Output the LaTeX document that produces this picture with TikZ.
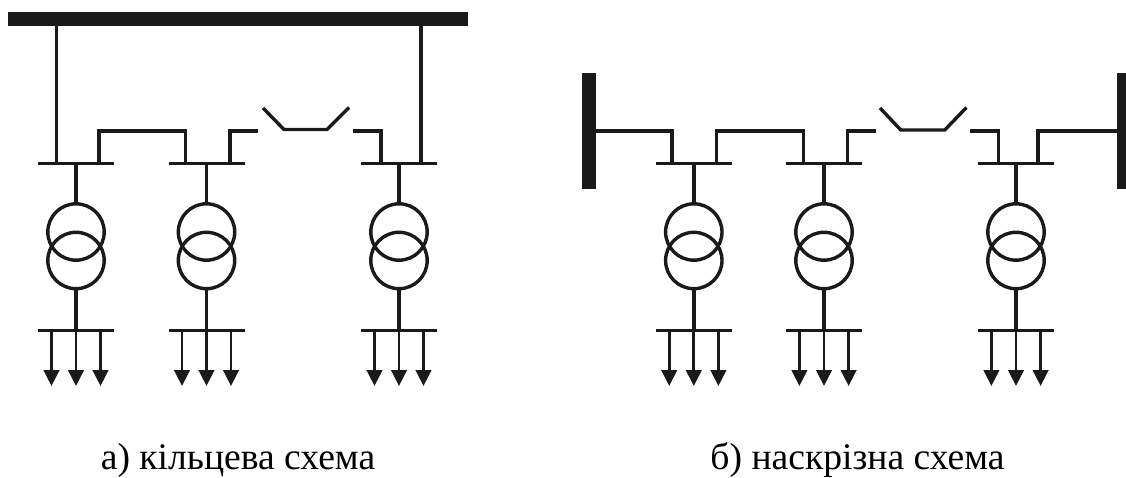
\documentclass[tikz,border=0pt]{standalone}
\usepackage{fontspec}
\setmainfont{Liberation Serif}
\usetikzlibrary{arrows.meta}
\definecolor{ink}{HTML}{1A1A1A}
\tikzset{
  wire/.style={draw=ink,line width=3.4pt,line join=miter},
  feed/.style={draw=ink,line width=2.8pt,-{Triangle[length=16pt,width=15.5pt,color=ink]}},
  winding/.style={circle,draw=ink,line width=3.4pt,minimum size=56.4pt,inner sep=0pt,outer sep=0pt},
  heavybar/.style={fill=ink,draw=none},
  caption/.style={font=\fontsize{37.6pt}{40pt}\selectfont,text=black,inner sep=0pt,anchor=base}
}
% #1 name prefix, #2 centre x, #3 arrow spacing, #4 half-width of the buses
\newcommand{\unitfeeder}[4]{%
  \coordinate (#1top) at (#2,163.3);
  \node[winding] (#1up) at (#2,232) {};
  \node[winding] (#1lo) at (#2,260.5) {};
  \coordinate (#1bus) at (#2,330.7);
  \coordinate (#1busL) at ([xshift=-#4pt]#1bus);
  \coordinate (#1busR) at ([xshift=#4pt]#1bus);
  \coordinate (#1topL) at ([xshift=-#4pt]#1top);
  \coordinate (#1topR) at ([xshift=#4pt]#1top);
  \draw[wire] (#1topL) -- (#1topR);
  \draw[wire] (#1busL) -- (#1busR);
  \draw[wire] (#1top) -- (#1up.north);
  \draw[wire] (#1lo.south) -- (#1bus);
  \foreach \dx in {-#3,0,#3}{
    \coordinate (#1s) at ([xshift=\dx pt]#1bus);
    \coordinate (#1e) at ([xshift=\dx pt,yshift=-55.3pt]#1bus);
    \draw[feed] (#1s) -- (#1e);
  }
}
\begin{document}
\begin{tikzpicture}[x=1pt,y=-1pt]
\useasboundingbox (0,0) rectangle (1126,478);

% ---------- a) ring scheme ----------
\node[heavybar,minimum width=460pt,minimum height=14.5pt,inner sep=0pt,outer sep=0pt] (busA) at (238,19.2) {};
\unitfeeder{a1}{76}{24.5}{38}
\unitfeeder{a2}{206.5}{24.5}{38}
\unitfeeder{a3}{399}{24.5}{38}
\coordinate (aL) at (56.5,19.2);
\coordinate (aLb) at (56.5,163.3);
\coordinate (aR) at (421,19.2);
\coordinate (aRb) at (421,163.3);
\draw[wire] (aL) -- (aLb);
\draw[wire] (aR) -- (aRb);
\coordinate (a1j) at (99,163.3);
\coordinate (a2j) at (185.5,163.3);
\draw[wire] (a1j) |- (a2j |- 0,131) -- (a2j);
\coordinate (a2k) at (230,163.3);
\coordinate (a2o) at (258,131);
\draw[wire] (a2k) |- (a2o);
\coordinate (a3k) at (381,163.3);
\coordinate (a3o) at (353,131);
\draw[wire] (a3k) |- (a3o);
\coordinate (as1) at (263,108);
\coordinate (as2) at (284,129.5);
\coordinate (as3) at (327,129.5);
\coordinate (as4) at (349,107.5);
\draw[wire] (as1) -- (as2) -- (as3) -- (as4);

% ---------- b) through scheme ----------
\node[heavybar,minimum width=14.5pt,minimum height=116.5pt,inner sep=0pt,outer sep=0pt] (busL) at (589,131) {};
\node[heavybar,minimum width=10pt,minimum height=116.5pt,inner sep=0pt,outer sep=0pt] (busR) at (1121.5,131) {};
\unitfeeder{b1}{693.8}{24.6}{38}
\unitfeeder{b2}{824}{24.6}{38}
\unitfeeder{b3}{1016}{24.6}{38}
\coordinate (b1i) at (671.8,163.3);
\coordinate (b1j) at (716.5,163.3);
\coordinate (b2i) at (803.3,163.3);
\coordinate (b2k) at (847.7,163.3);
\coordinate (b2o) at (875.7,131);
\coordinate (b3i) at (998.4,163.3);
\coordinate (b3o) at (970,131);
\coordinate (b3j) at (1038,163.3);
\draw[wire] (busL.east |- 0,131) -| (b1i);
\draw[wire] (b1j) |- (b2i |- 0,131) -- (b2i);
\draw[wire] (b2k) |- (b2o);
\draw[wire] (b3i) |- (b3o);
\draw[wire] (b3j) |- (busR.west |- 0,131);
\coordinate (bs1) at (880,108);
\coordinate (bs2) at (900.8,130);
\coordinate (bs3) at (944.8,130);
\coordinate (bs4) at (966.4,107.5);
\draw[wire] (bs1) -- (bs2) -- (bs3) -- (bs4);

% ---------- captions ----------
\node[caption] (capA) at (238,469.5) {а) кільцева схема};
\node[caption] (capB) at (857.5,469.5) {б) наскрізна схема};
\end{tikzpicture}
\end{document}
